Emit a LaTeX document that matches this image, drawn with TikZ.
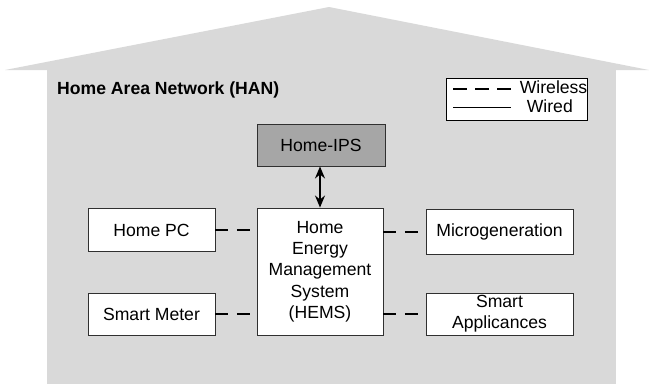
\documentclass[tikz,border=0pt]{standalone}
\usepackage{fontspec}
\setmainfont{Liberation Sans}
\usetikzlibrary{arrows.meta}
\definecolor{housegray}{HTML}{D9D9D9}
\definecolor{ipsgray}{HTML}{A6A6A6}
\definecolor{edgegray}{HTML}{303030}
\tikzset{
  unit/.style={draw=edgegray, line width=0.9pt, fill=white, inner sep=0pt,
    align=center, font=\fontsize{17.6}{21.3}\selectfont},
  wireless/.style={line width=1.9pt, dash pattern=on 13pt off 8.5pt},
  wired/.style={line width=0.9pt},
  link/.style={line width=1.6pt, {Stealth[length=12pt,width=10pt]}-{Stealth[length=12pt,width=10pt]}},
  lbl/.style={inner sep=0pt, font=\fontsize{17.6}{21.3}\selectfont}
}
\begin{document}
\begin{tikzpicture}[x=1pt, y=-1pt]
\useasboundingbox (0,0) rectangle (649,388);
% house outline: roof and walls
\fill[housegray] (5,70) -- (329,7) -- (649,70) -- cycle;
\fill[housegray] (47,69) rectangle (616,384);
\node[lbl, anchor=base west, font=\fontsize{17.6}{21.3}\selectfont\bfseries] (han) at (57,94.5) {Home Area Network (HAN)};

% legend
\node[draw=black, line width=0.9pt, fill=white, minimum width=141pt, minimum height=42pt, inner sep=0pt] (legend) at (516.5,99) {};
\node[lbl, anchor=base east] (wl) at (587.5,93.3) {Wireless};
\node[lbl, anchor=base east] (wd) at (573,112.7) {Wired};
\coordinate (wla) at (453,89);
\coordinate (wlb) at (511,89);
\coordinate (wda) at (453,107);
\coordinate (wdb) at (511,107);
\draw[line width=1.7pt, dash pattern=on 14pt off 8pt] (wla) -- (wlb);
\draw[wired] (wda) -- (wdb);

% components
\node[unit, fill=ipsgray, minimum width=128pt, minimum height=42pt] (ips) at (321,145) {Home-IPS};
\node[unit, minimum width=126pt, minimum height=127pt] (hems) at (320,271.5)
  {Home\\Energy\\Management\\System\\(HEMS)};
\node[unit, minimum width=127pt, minimum height=43pt] (hpc) at (151.5,230) {Home PC};
\node[unit, minimum width=127pt, minimum height=42pt] (meter) at (151.5,314) {Smart Meter};
\node[unit, minimum width=147pt, minimum height=45pt] (micro) at (499.5,232) {Microgeneration};
\node[unit, minimum width=147pt, minimum height=42pt] (appl) at (499.5,314) {Smart\\Applicances};

% connections
\draw[link] (hems.north) -- (hems.north |- ips.south);
\draw[wireless] (hpc.east) -- (hpc.east -| hems.west);
\draw[wireless] (meter.east) -- (meter.east -| hems.west);
\draw[wireless] (hems.east |- micro.west) -- (micro.west);
\draw[wireless] (hems.east |- appl.west) -- (appl.west);
\end{tikzpicture}
\end{document}
